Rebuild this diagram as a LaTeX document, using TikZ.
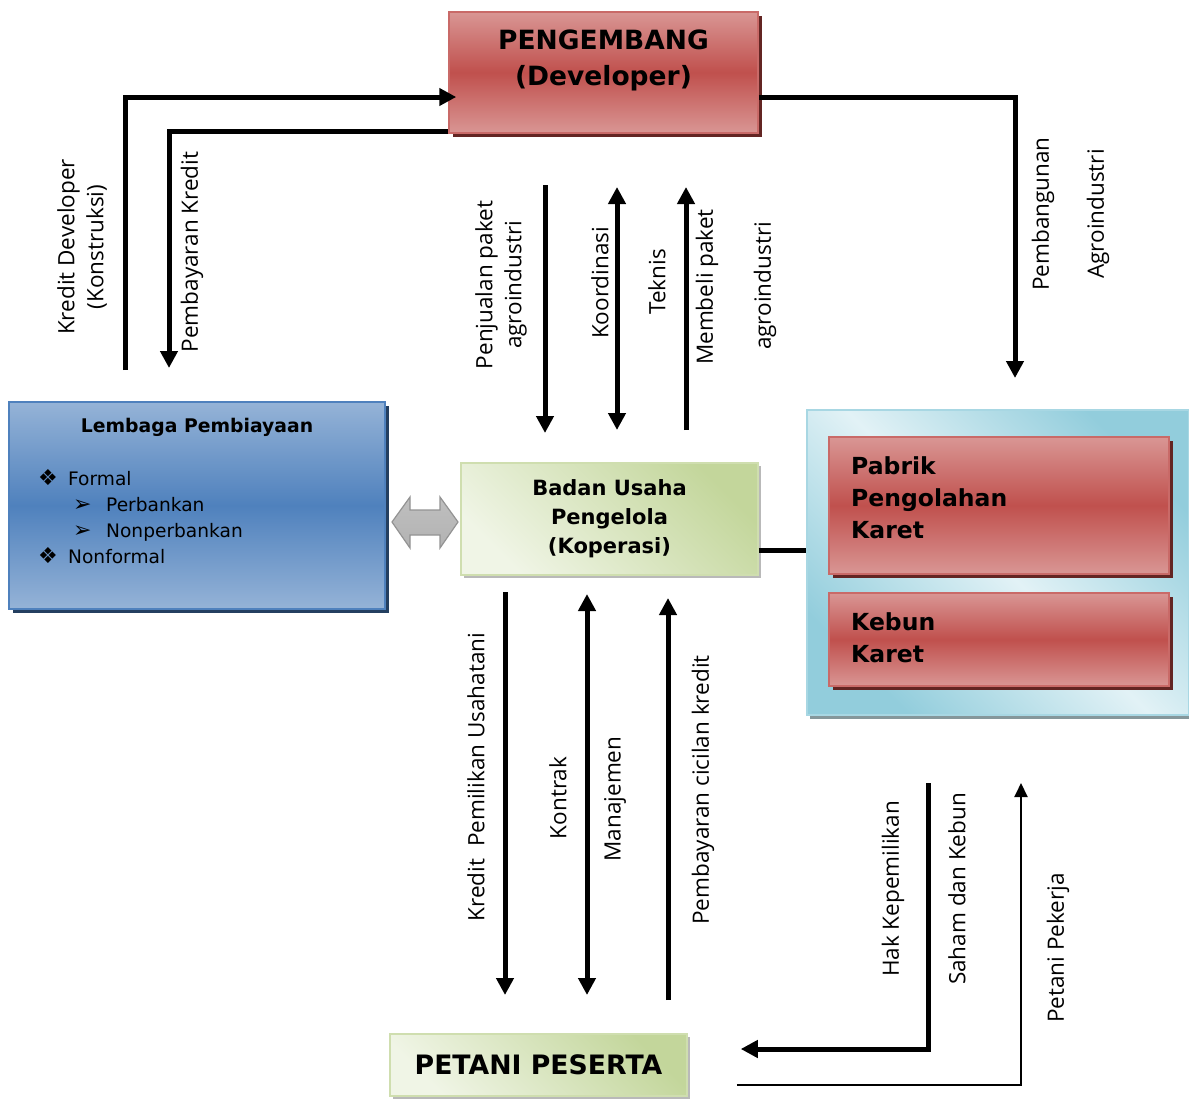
\documentclass[tikz,border=0pt]{standalone}
\usepackage{fontspec}
\setmainfont{DejaVu Sans}
\newfontfamily\lblfont{Open Sans}
\usetikzlibrary{arrows.meta,shadows}
\definecolor{redlight}{HTML}{D99694}
\definecolor{redmid}{HTML}{C0504D}
\definecolor{redshadow}{HTML}{632523}
\definecolor{bluelight}{HTML}{95B3D7}
\definecolor{bluemid}{HTML}{4F81BD}
\definecolor{blueshadow}{HTML}{243F60}
\definecolor{greenlight}{HTML}{F0F5E6}
\definecolor{greendark}{HTML}{C3D69B}
\definecolor{aqualight}{HTML}{E2F2F6}
\definecolor{aquadark}{HTML}{92CDDC}
\newcommand*{\TipFull}{Triangle[width=17pt,length=17pt]}
\newcommand*{\TipThin}{Triangle[width=13pt,length=14pt]}

\begin{document}
\begin{tikzpicture}[x=1pt, y=-1pt,
    flow/.style={line width=5pt, -{\TipFull}},
    flowboth/.style={line width=5pt, {\TipFull}-{\TipFull}},
    thinflow/.style={line width=2pt, -{\TipThin}},
    lbl/.style={font=\lblfont\fontsize{22.5}{29}\selectfont, rotate=90, align=center, inner sep=0pt},
    boxtext/.style={inner sep=0pt, align=center},
    redbox/.style={draw=redmid!85, line width=1.5pt, top color=redlight, bottom color=redlight, middle color=redmid,
        drop shadow={shadow xshift=4pt, shadow yshift=-4pt, fill=redshadow, opacity=1}},
    bluebox/.style={draw=bluemid, line width=1.5pt, top color=bluelight, bottom color=bluelight, middle color=bluemid,
        drop shadow={shadow xshift=4pt, shadow yshift=-4pt, fill=blueshadow, opacity=1}},
    greenbox/.style={draw=greendark!80, line width=1.5pt, left color=greenlight, right color=greendark, shading angle=135,
        drop shadow={shadow xshift=3pt, shadow yshift=-3pt, fill=gray!55, opacity=1}},
    kawasanbox/.style={draw=aquadark!80, line width=1.5pt, top color=aquadark, bottom color=aquadark, middle color=aqualight, shading angle=-45,
        drop shadow={shadow xshift=3pt, shadow yshift=-4pt, fill=gray!70!aquadark, opacity=1}},
    listtext/.style={inner sep=0pt, anchor=west, text height=13pt, text depth=0pt, font=\fontsize{18.6}{26}\selectfont},
    listsym/.style={listtext, font=\fontsize{22}{26}\selectfont}]
\useasboundingbox (0,0) rectangle (1189,1098);

% boxes
\node[kawasanbox, minimum width=382, minimum height=305] (kawasan) at (998,562.5) {};
\node[redbox, minimum width=309, minimum height=121] (dev) at (603.5,72.5) {};
\node[boxtext, font=\bfseries\fontsize{26.5}{36}\selectfont] (dev-txt) at (603.5,60) {PENGEMBANG\\(Developer)};

\node[bluebox, minimum width=376, minimum height=207] (lembaga) at (197,505.5) {};
\node[boxtext, font=\bfseries\fontsize{18.8}{26}\selectfont] (lembaga-txt) at (197,427) {Lembaga Pembiayaan};
\foreach \name/\bx/\tx/\yy/\sym/\entry in {formal/38/68/479/❖/Formal, bank/73/106/505/➢/Perbankan,
        nonbank/73/106/531/➢/Nonperbankan, nonformal/38/68/557/❖/Nonformal} {
    \node[listsym] (\name-sym) at (\bx,\yy) {\sym};
    \node[listtext] (\name) at (\tx,\yy) {\entry};
}

\node[greenbox, minimum width=297, minimum height=112, align=center, font=\bfseries\fontsize{21}{29}\selectfont] (badan) at (609.5,519) {Badan Usaha\\Pengelola\\(Koperasi)};

\node[redbox, minimum width=340, minimum height=137] (pabrik) at (999,505.5) {};
\node[boxtext, anchor=west, align=left, font=\bfseries\fontsize{23.5}{32}\selectfont] (pabrik-txt) at (851,498) {Pabrik\\Pengolahan\\Karet};
\node[redbox, minimum width=340, minimum height=93] (kebun) at (999,639.5) {};
\node[boxtext, anchor=west, align=left, font=\bfseries\fontsize{23.5}{32}\selectfont] (kebun-txt) at (851,638) {Kebun\\Karet};

\node[greenbox, minimum width=297, minimum height=62, font=\bfseries\fontsize{26.7}{30}\selectfont] (petani) at (538.5,1065) {PETANI PESERTA};

% grey two-way arrow
\draw[draw=gray!85, line width=1.2pt, top color=gray!50, middle color=white, bottom color=gray!60]
    (392,522) -- (410,497) -- (410,510) -- (440,510) -- (440,497) -- (458,522)
    -- (440,548) -- (440,535) -- (410,535) -- (410,548) -- cycle;

% connectors
\coordinate (kd-foot) at (125,370);
\coordinate (pk-foot) at (169,368);
\coordinate (pa-foot) at (1015,378);
\draw[flow] (kd-foot) |- ([shift={(8,24.5)}]dev.west);
\draw[flow] ([shift={(0,58.5)}]dev.west) -| (pk-foot);
\draw[flow] ([shift={(0,24.5)}]dev.east) -| (pa-foot);

\coordinate (jual-a) at (545,185);  \coordinate (jual-b) at (545,433);
\coordinate (koor-a) at (617,187);  \coordinate (koor-b) at (617,430);
\coordinate (beli-a) at (686,430);  \coordinate (beli-b) at (686,187);
\draw[flow] (jual-a) -- (jual-b);
\draw[flowboth] (koor-a) -- (koor-b);
\draw[flow] (beli-a) -- (beli-b);

\coordinate (kpu-a) at (505,592);   \coordinate (kpu-b) at (505,995);
\coordinate (kon-a) at (587,594);   \coordinate (kon-b) at (587,995);
\coordinate (cicil-a) at (668,1000); \coordinate (cicil-b) at (668,598);
\draw[flow] (kpu-a) -- (kpu-b);
\draw[flowboth] (kon-a) -- (kon-b);
\draw[flow] (cicil-a) -- (cicil-b);

\coordinate (link-a) at ([shift={(0,31)}]badan.east);
\draw[line width=5pt] (link-a) -- (link-a -| kawasan.west);

\coordinate (hak-top) at (928,783);
\coordinate (kerja-top) at (1021,783);
\draw[flow] (hak-top) |- ([shift={(53,-16)}]petani.east);
\draw[thinflow] ([shift={(49,20)}]petani.east) -| (kerja-top);

% labels
\foreach \name/\x/\y/\txt in {
    kredit-dev/82/247/{Kredit Developer\\(Konstruksi)},
    bayar-kredit/192/252/{Pembayaran Kredit},
    jual/501/285/{Penjualan paket\\agroindustri},
    koor/600/283/{Koordinasi},
    teknis/657/282/{Teknis},
    beli/707/287/{Membeli paket},
    beli-agro/765/286/{agroindustri},
    bangun/1043/214/{Pembangunan},
    bangun-agro/1098/214/{Agroindustri},
    kpu/476/777/{Kredit\ \ Pemilikan Usahatani},
    kontrak/558/798/{Kontrak},
    manajemen/615/799/{Manajemen},
    cicilan/703/790/{Pembayaran cicilan kredit},
    hak/893/889/{Hak Kepemilikan},
    saham/957/889/{Saham dan Kebun},
    pekerja/1058/948/{Petani Pekerja}}
    \node[lbl] (\name-lbl) at (\x,\y) {\txt};
\end{tikzpicture}
\end{document}
